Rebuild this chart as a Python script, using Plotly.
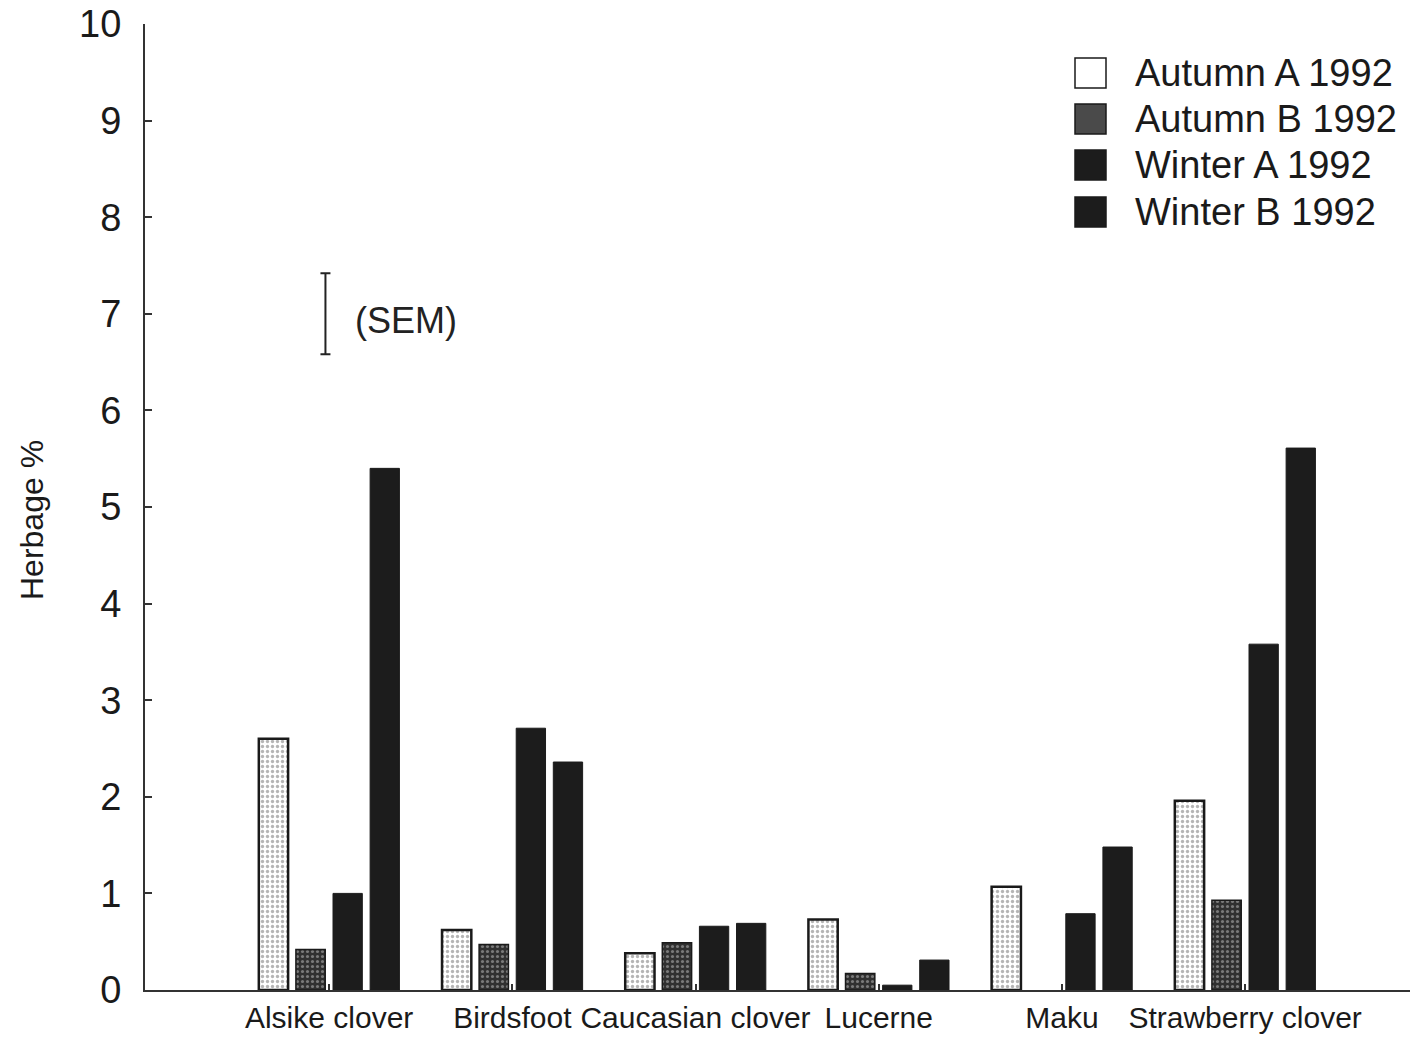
import plotly.graph_objects as go

categories = ["Alsike clover", "Birdsfoot", "Caucasian clover", "Lucerne", "Maku", "Strawberry clover"]
series_names = ["Autumn A 1992", "Autumn B 1992", "Winter A 1992", "Winter B 1992"]
autumn_a = [2.60, 0.62, 0.38, 0.73, 1.07, 1.96]
autumn_b = [0.42, 0.47, 0.49, 0.17, None, 0.93]
winter_a = [1.00, 2.71, 0.66, 0.05, 0.79, 3.58]
winter_b = [5.40, 2.36, 0.69, 0.31, 1.48, 5.61]
sem_center = 7.0
sem_half = 0.42
y_ticks = list(range(0, 11))

W, H = 1427, 1037
L, R, T, B = 145, 17, 24, 47

x_pos = list(range(len(categories)))

styles = [
    dict(color="white", line=dict(color="#1a1a1a", width=2.5),
         pattern=dict(shape=".", fgcolor="#b5b5b5", bgcolor="white", size=5, solidity=0.35, fillmode="replace")),
    dict(color="#3a3a3a", line=dict(color="#1a1a1a", width=1.5),
         pattern=dict(shape=".", fgcolor="#7a7a7a", bgcolor="#303030", size=5, solidity=0.3, fillmode="replace")),
    dict(color="#1c1c1c", line=dict(color="#1c1c1c", width=1)),
    dict(color="#1c1c1c", line=dict(color="#1c1c1c", width=1)),
]

fig = go.Figure()
for name, vals, st in zip(series_names, [autumn_a, autumn_b, winter_a, winter_b], styles):
    fig.add_trace(go.Bar(x=x_pos, y=vals, name=name, marker=st, showlegend=False))

# SEM indicator
fig.add_trace(go.Scatter(
    x=[-0.02], y=[sem_center], mode="markers", marker=dict(size=0.1, color="rgba(0,0,0,0)"),
    error_y=dict(type="constant", value=sem_half, thickness=2, width=5, color="#222"),
    showlegend=False, hoverinfo="skip"))
fig.add_annotation(x=0.13, y=sem_center - 0.07, xref="x", yref="y", text="(SEM)", showarrow=False,
                   xanchor="left", yanchor="middle", font=dict(size=36, color="#222"))

# custom legend (large swatches as in the reference)
pw, ph = W - L - R, H - T - B
def px2x(px):
    return (px - L) / pw
def px2y(py):
    return (H - B - py) / ph

legend_rows = [73, 119, 165, 212]
legend_fill = ["white", "#4a4a4a", "#1c1c1c", "#1c1c1c"]
for name, cy, fc in zip(series_names, legend_rows, legend_fill):
    fig.add_shape(type="rect", xref="paper", yref="paper",
                  x0=px2x(1075), x1=px2x(1106), y0=px2y(cy + 15), y1=px2y(cy - 15),
                  fillcolor=fc, line=dict(color="#1a1a1a", width=1.5))
    fig.add_annotation(xref="paper", yref="paper", x=px2x(1133), y=px2y(cy), text=name,
                       showarrow=False, xanchor="left", yanchor="middle",
                       font=dict(size=38, color="#1a1a1a"))

# y-axis title
fig.add_annotation(xref="paper", yref="paper", x=px2x(32), y=px2y(520), text="Herbage %",
                   textangle=-90, showarrow=False, xanchor="center", yanchor="middle",
                   font=dict(size=32, color="#1a1a1a"))

fig.update_layout(
    width=W, height=H,
    margin=dict(l=L, r=R, t=T, b=B),
    paper_bgcolor="white", plot_bgcolor="white",
    barmode="group", bargap=0.19, bargroupgap=0.21,
    font=dict(family="Liberation Sans, Arial, sans-serif", color="#1a1a1a"),
    showlegend=False,
)
fig.update_xaxes(
    range=[-1.005, 5.9], tickvals=x_pos, ticktext=categories, automargin=False,
    showline=True, linecolor="#333", linewidth=2, showgrid=False, zeroline=False,
    ticks="inside", ticklen=6, tickcolor="#333", tickwidth=2,
    tickfont=dict(size=30, color="#1a1a1a"), ticklabelstandoff=0,
)
fig.update_yaxes(
    range=[0, 10], tickvals=y_ticks, automargin=False,
    showline=True, linecolor="#333", linewidth=2, showgrid=False, zeroline=False,
    ticks="inside", ticklen=7, tickcolor="#333", tickwidth=2,
    tickfont=dict(size=38, color="#1a1a1a"), ticklabelstandoff=14,
)

fig.write_html("out.html")
